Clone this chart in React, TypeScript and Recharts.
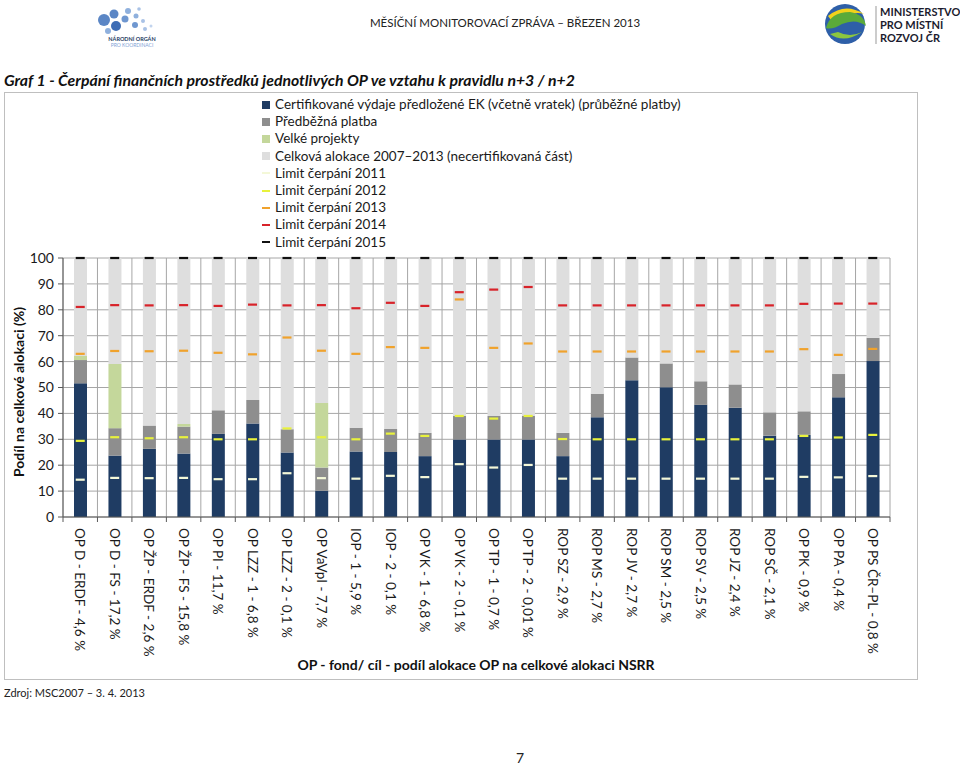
import React from "react";
import { ComposedChart, Bar, Line, XAxis, YAxis, CartesianGrid, Legend } from "recharts";

const categories = [
  "OP D - ERDF - 4,6 %",
  "OP D - FS - 17,2 %",
  "OP ŽP - ERDF - 2,6 %",
  "OP ŽP - FS - 15,8 %",
  "OP PI - 11,7 %",
  "OP LZZ - 1 - 6,8 %",
  "OP LZZ - 2 - 0,1 %",
  "OP VaVpI - 7,7 %",
  "IOP - 1 - 5,9 %",
  "IOP - 2 - 0,1 %",
  "OP VK - 1 - 6,8 %",
  "OP VK - 2 - 0,1 %",
  "OP TP - 1 - 0,7 %",
  "OP TP - 2 - 0,01 %",
  "ROP SZ - 2,9 %",
  "ROP MS - 2,7 %",
  "ROP JV - 2,7 %",
  "ROP SM - 2,5 %",
  "ROP SV - 2,5 %",
  "ROP JZ - 2,4 %",
  "ROP SČ - 2,1 %",
  "OP PK - 0,9 %",
  "OP PA - 0,4 %",
  "OP PS ČR–PL - 0,8 %",
];

const certified = [51.6, 23.7, 26.3, 24.5, 32.1, 36.1, 24.9, 10.1, 25.3, 25.1, 23.5, 29.9, 29.9, 29.9, 23.5, 38.5, 52.8, 50.1, 43.3, 42.2, 31.4, 31.7, 46.2, 60.2];
const advance = [9.0, 10.6, 9.0, 10.4, 9.1, 9.1, 9.0, 9.0, 9.1, 8.9, 9.0, 9.1, 9.1, 9.1, 9.0, 9.1, 8.8, 9.2, 9.1, 9.0, 9.0, 9.1, 9.0, 9.0];
const majorProjects = [1.6, 24.8, 0, 1.0, 0, 0, 0, 24.9, 0, 0, 0, 0, 0, 0, 0, 0, 0, 0, 0, 0, 0, 0, 0, 0];

const limit2011 = [14.4, 15.1, 15.0, 15.1, 14.6, 14.6, 16.9, 15.0, 14.8, 15.9, 15.4, 20.4, 19.1, 20.1, 14.8, 14.8, 14.8, 14.8, 14.8, 14.8, 14.8, 15.5, 15.3, 15.8];
const limit2012 = [29.4, 30.8, 30.4, 30.8, 30.0, 30.0, 34.2, 30.8, 30.0, 32.2, 31.3, 39.0, 38.0, 39.0, 30.1, 30.0, 30.0, 30.0, 30.0, 30.0, 30.0, 31.3, 30.7, 31.7];
const limit2013 = [63.0, 64.1, 64.0, 64.2, 63.4, 62.8, 69.3, 64.2, 63.0, 65.6, 65.3, 84.0, 65.3, 67.0, 63.9, 63.9, 63.9, 63.9, 63.9, 63.9, 63.9, 64.8, 62.6, 64.9];
const limit2014 = [81.1, 81.8, 81.7, 81.8, 81.5, 82.0, 81.7, 81.8, 80.6, 82.7, 81.5, 86.8, 87.8, 88.8, 81.7, 81.7, 81.7, 81.7, 81.7, 81.7, 81.7, 82.3, 82.4, 82.4];
const limit2015 = [100, 100, 100, 100, 100, 100, 100, 100, 100, 100, 100, 100, 100, 100, 100, 100, 100, 100, 100, 100, 100, 100, 100, 100];

const yTicks = [0, 10, 20, 30, 40, 50, 60, 70, 80, 90, 100];

const legendLabels = [
  "Certifikované výdaje předložené EK (včetně vratek) (průběžné platby)",
  "Předběžná platba",
  "Velké projekty",
  "Celková alokace 2007–2013 (necertifikovaná část)",
  "Limit čerpání 2011",
  "Limit čerpání 2012",
  "Limit čerpání 2013",
  "Limit čerpání 2014",
  "Limit čerpání 2015",
];

const data = categories.map((name, i) => ({
  name,
  cert: certified[i],
  pred: advance[i],
  velke: majorProjects[i],
  rest: +(100 - certified[i] - advance[i] - majorProjects[i]).toFixed(2),
  l11: limit2011[i],
  l12: limit2012[i],
  l13: limit2013[i],
  l14: limit2014[i],
  l15: limit2015[i],
}));

const FONT = "Lato, 'Open Sans', 'DejaVu Sans', sans-serif";
const C_CERT = "#1F3C63";
const C_PRED = "#8E8E8E";
const C_VELKE = "#C4D79B";
const C_REST = "#DEDEDE";
const C_L11 = "#F4F8D8";
const C_L12 = "#E8F23C";
const C_L13 = "#F0A22C";
const C_L14 = "#D8232A";
const C_L15 = "#111111";
const legendColors = [C_CERT, C_PRED, C_VELKE, C_REST, C_L11, C_L12, C_L13, C_L14, C_L15];

const PLOT_LEFT = 63;
const PLOT_RIGHT = 890;
const HALF_STEP = (PLOT_RIGHT - PLOT_LEFT) / categories.length / 2;

function makeDash(color: string) {
  return (p: any) => {
    if (p == null || p.cx == null || p.cy == null) return <g key={"e" + (p && p.index)} />;
    return <rect key={"d" + p.index} x={p.cx - 4.5} y={p.cy - 1.1} width={9} height={2.2} fill={color} />;
  };
}

const XTick = (props: any) => {
  const { x, y, payload, index } = props;
  return (
    <g>
      <line x1={x - HALF_STEP} x2={x - HALF_STEP} y1={y} y2={y + 5} stroke="#595959" />
      {index === categories.length - 1 && (
        <line x1={x + HALF_STEP} x2={x + HALF_STEP} y1={y} y2={y + 5} stroke="#595959" />
      )}
      <text
        transform={`translate(${x},${y + 11}) rotate(90)`}
        dy="0.35em"
        textAnchor="start"
        fontSize={13.5}
        fill="#1a1a1a"
        fontFamily={FONT}
      >
        {payload.value}
      </text>
    </g>
  );
};

const LegendBox = () => (
  <div style={{ fontFamily: FONT, fontSize: 13.5, color: "#1a1a1a", lineHeight: "17.2px" }}>
    {legendLabels.map((label, i) => (
      <div key={label} style={{ display: "flex", alignItems: "center", whiteSpace: "nowrap" }}>
        {i < 4 ? (
          <span style={{ display: "inline-block", width: 8, height: 8, background: legendColors[i], marginRight: 5 }} />
        ) : (
          <span style={{ display: "inline-block", width: 8, height: 2, background: legendColors[i], marginRight: 5 }} />
        )}
        <span>{label}</span>
      </div>
    ))}
  </div>
);

const LeftLogo = () => (
  <svg width={80} height={50} style={{ position: "absolute", left: 92, top: 2 }}>
    {[
      [12, 18, 6, "#5B86C5"],
      [22, 12, 4.5, "#5B86C5"],
      [24, 24, 5, "#3E6DB5"],
      [33, 17, 3.5, "#6F97D0"],
      [36, 9, 3, "#8FB0DD"],
      [44, 14, 2.5, "#8FB0DD"],
      [43, 23, 3, "#6F97D0"],
      [51, 19, 2, "#A9C2E6"],
      [53, 27, 2, "#A9C2E6"],
      [47, 7, 1.8, "#A9C2E6"],
      [59, 24, 1.5, "#C2D4EE"],
      [16, 29, 3, "#8FB0DD"],
    ].map((c, i) => (
      <circle key={i} cx={c[0] as number} cy={c[1] as number} r={c[2] as number} fill={c[3] as string} />
    ))}
    <text x={40} y={39} textAnchor="middle" fontSize={5.5} fontWeight="bold" fill="#1F3C63" fontFamily={FONT}>NÁRODNÍ ORGÁN</text>
    <text x={40} y={45} textAnchor="middle" fontSize={5} fill="#7FA3D6" fontFamily={FONT}>PRO KOORDINACI</text>
  </svg>
);

const RightLogo = () => (
  <svg width={60} height={44} style={{ position: "absolute", left: 820, top: 2 }}>
    <circle cx={25} cy={22} r={20} fill="#2E5FA8" />
    <path d="M8 14 Q25 0 44 12 Q30 8 14 22 Z" fill="#F2D21B" />
    <path d="M6 26 Q10 10 30 10 Q44 12 46 24 Q36 16 22 22 Q12 28 6 26 Z" fill="#5BAA3A" />
    <path d="M10 32 Q24 42 42 30 Q30 36 18 30 Z" fill="#8CC63F" />
    <line x1={56} y1={4} x2={56} y2={42} stroke="#999" strokeWidth={1} />
  </svg>
);

export default function App() {
  return (
    <div style={{ position: "absolute", left: 0, top: 0, width: 960, height: 766, background: "#fff", fontFamily: FONT, overflow: "hidden" }}>
      <LeftLogo />
      <RightLogo />
      <div style={{ position: "absolute", left: 880, top: 5, fontSize: 11, fontWeight: "bold", lineHeight: "13px", color: "#1b1b2e", fontFamily: FONT }}>
        <div>MINISTERSTVO</div>
        <div>PRO MÍSTNÍ</div>
        <div>ROZVOJ ČR</div>
      </div>
      <div style={{ position: "absolute", left: 0, width: 1010, top: 16, textAlign: "center", fontSize: 11.5, color: "#222", fontFamily: FONT }}>
        MĚSÍČNÍ MONITOROVACÍ ZPRÁVA – BŘEZEN 2013
      </div>
      <div style={{ position: "absolute", left: 4, top: 70, fontSize: 15.8, fontWeight: "bold", fontStyle: "italic", color: "#111", fontFamily: FONT, whiteSpace: "nowrap" }}>
        Graf 1 - Čerpání finančních prostředků jednotlivých OP ve vztahu k pravidlu n+3 / n+2
      </div>
      <div style={{ position: "absolute", left: 4, top: 92, width: 914, height: 588, border: "1px solid #BFBFBF", boxSizing: "border-box" }} />
      <div style={{ position: "absolute", left: 0, top: 0 }}>
        <ComposedChart
          width={960}
          height={766}
          data={data}
          margin={{ top: 258, right: 70, bottom: 119, left: 23 }}
          barCategoryGap={0}
          style={{ fontFamily: FONT }}
        >
          <CartesianGrid
            stroke="#A6A6A6"
            strokeWidth={1}
            verticalCoordinatesGenerator={(p: any) => {
              const o = p.offset;
              const arr: number[] = [];
              for (let i = 0; i <= categories.length; i++) arr.push(o.left + (i * o.width) / categories.length);
              return arr;
            }}
          />
          <XAxis
            dataKey="name"
            interval={0}
            height={130}
            tickLine={false}
            tickSize={0}
            tickMargin={0}
            axisLine={{ stroke: "#595959" }}
            tick={<XTick />}
          />
          <YAxis
            width={40}
            domain={[0, 100]}
            ticks={yTicks}
            interval={0}
            tickSize={5}
            tickMargin={4}
            axisLine={{ stroke: "#595959" }}
            tickLine={{ stroke: "#595959" }}
            tick={{ fontSize: 14, fill: "#1a1a1a", fontFamily: FONT }}
          />
          <Legend
            layout="vertical"
            align="center"
            verticalAlign="middle"
            content={() => <LegendBox />}
            wrapperStyle={{ position: "absolute", left: 262, top: 96, width: 460 }}
          />
          <Bar dataKey="cert" stackId="s" fill={C_CERT} barSize={13} isAnimationActive={false} />
          <Bar dataKey="pred" stackId="s" fill={C_PRED} barSize={13} isAnimationActive={false} />
          <Bar dataKey="velke" stackId="s" fill={C_VELKE} barSize={13} isAnimationActive={false} />
          <Bar dataKey="rest" stackId="s" fill={C_REST} barSize={13} isAnimationActive={false} />
          <Line dataKey="l11" stroke="none" dot={makeDash(C_L11)} activeDot={false} isAnimationActive={false} />
          <Line dataKey="l12" stroke="none" dot={makeDash(C_L12)} activeDot={false} isAnimationActive={false} />
          <Line dataKey="l13" stroke="none" dot={makeDash(C_L13)} activeDot={false} isAnimationActive={false} />
          <Line dataKey="l14" stroke="none" dot={makeDash(C_L14)} activeDot={false} isAnimationActive={false} />
          <Line dataKey="l15" stroke="none" dot={makeDash(C_L15)} activeDot={false} isAnimationActive={false} />
        </ComposedChart>
      </div>
      <div style={{ position: "absolute", left: 18, top: 392, transform: "translate(-50%, -50%) rotate(-90deg)", fontSize: 14, fontWeight: "bold", color: "#111", whiteSpace: "nowrap", fontFamily: FONT }}>
        Podíl na celkové alokaci (%)
      </div>
      <div style={{ position: "absolute", left: 476, top: 664, transform: "translate(-50%, -50%)", fontSize: 14, fontWeight: "bold", color: "#111", whiteSpace: "nowrap", fontFamily: FONT }}>
        OP - fond/ cíl - podíl alokace OP na celkové alokaci NSRR
      </div>
      <div style={{ position: "absolute", left: 4, top: 686, fontSize: 11, color: "#222", fontFamily: FONT }}>
        Zdroj: MSC2007 – 3. 4. 2013
      </div>
      <div style={{ position: "absolute", left: 516, top: 751, fontSize: 14, lineHeight: "14px", color: "#222", fontFamily: FONT }}>7</div>
    </div>
  );
}
